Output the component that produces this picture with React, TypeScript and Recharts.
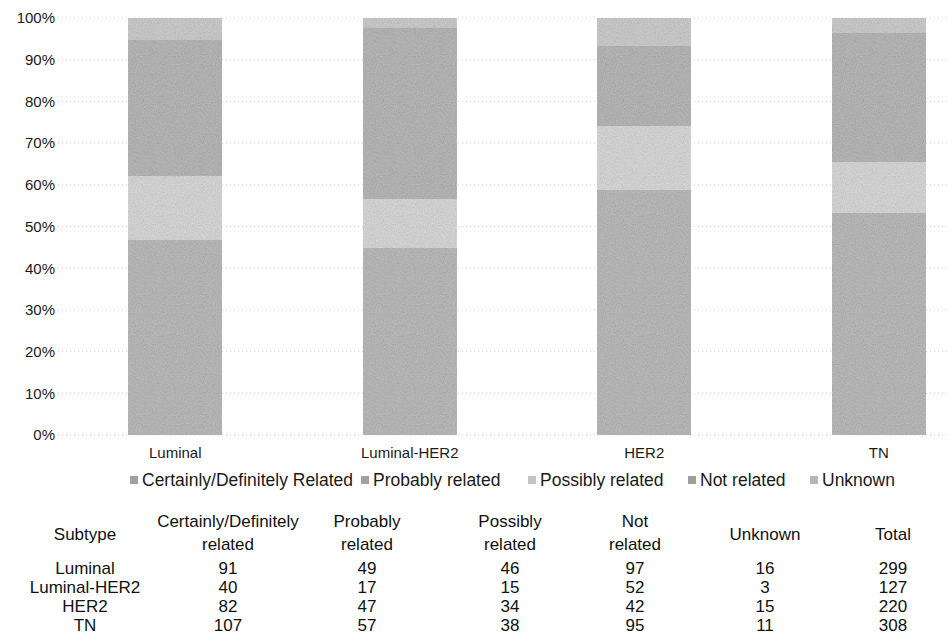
import { BarChart, Bar, XAxis, YAxis, CartesianGrid } from 'recharts';

// Subtypes and patient counts per attribution category
const subtypes = ['Luminal', 'Luminal-HER2', 'HER2', 'TN'];
const certainly = [91, 40, 82, 107];
const probably = [49, 17, 47, 57];
const possibly = [46, 15, 34, 38];
const notRelated = [97, 52, 42, 95];
const unknown = [16, 3, 15, 11];
const totals = [299, 127, 220, 308];

const yTicks = [0, 0.1, 0.2, 0.3, 0.4, 0.5, 0.6, 0.7, 0.8, 0.9, 1];

// base = tone under the grain overlay, color = flat swatch for the legend
const series = [
  { key: 'certainly', name: 'Certainly/Definitely Related', color: '#a1a1a1', base: '#adadad' },
  { key: 'probably', name: 'Probably related', color: '#a1a1a1', base: '#adadad' },
  { key: 'possibly', name: 'Possibly related', color: '#c4c4c4', base: '#d6d6d6' },
  { key: 'notRelated', name: 'Not related', color: '#9e9e9e', base: '#a9a9a9' },
  { key: 'unknown', name: 'Unknown', color: '#b7b7b7', base: '#c6c6c6' },
];

const data = subtypes.map((name, i) => ({
  name,
  certainly: certainly[i],
  probably: probably[i],
  possibly: possibly[i],
  notRelated: notRelated[i],
  unknown: unknown[i],
}));

const FONT = '"Liberation Sans", Arial, Helvetica, sans-serif';

// table columns: header lines and centre x
const columns = [
  { head: ['Subtype'], x: 85 },
  { head: ['Certainly/Definitely', 'related'], x: 228 },
  { head: ['Probably', 'related'], x: 367 },
  { head: ['Possibly', 'related'], x: 510 },
  { head: ['Not', 'related'], x: 635 },
  { head: ['Unknown'], x: 765 },
  { head: ['Total'], x: 893 },
];

const rows = subtypes.map((s, i) => [
  s,
  certainly[i],
  probably[i],
  possibly[i],
  notRelated[i],
  unknown[i],
  totals[i],
]);

const legendX = [130, 361, 528, 688, 810];

function Cell({ x, y, children }: { x: number; y: number; children: any }) {
  return (
    <div
      style={{
        position: 'absolute',
        left: x - 120,
        width: 240,
        top: y - 11,
        height: 22,
        lineHeight: '22px',
        textAlign: 'center',
        fontSize: 17,
        color: '#111',
        whiteSpace: 'nowrap',
      }}
    >
      {children}
    </div>
  );
}

export default function App() {
  return (
    <div
      style={{
        position: 'absolute',
        left: 0,
        top: 0,
        width: 947,
        height: 641,
        overflow: 'hidden',
        background: '#fff',
        fontFamily: FONT,
      }}
    >
      <BarChart
        width={1010}
        height={460}
        data={data}
        stackOffset="expand"
        margin={{ top: 18, right: 14, left: 0, bottom: 0 }}
        barSize={94}
      >
        <defs>
          <filter id="grain" x="0" y="0" width="100%" height="100%">
            <feTurbulence type="fractalNoise" baseFrequency="0.9" numOctaves="2" seed="4" />
            <feColorMatrix
              type="matrix"
              values="0.33 0.33 0.33 0 0  0.33 0.33 0.33 0 0  0.33 0.33 0.33 0 0  0 0 0 0 0.3"
            />
          </filter>
          {series.map((s) => (
            <pattern
              key={s.key}
              id={'fill-' + s.key}
              patternUnits="userSpaceOnUse"
              width={120}
              height={120}
            >
              <rect width={120} height={120} fill={s.base} />
              <rect width={120} height={120} filter="url(#grain)" />
            </pattern>
          ))}
        </defs>
        <CartesianGrid
          vertical={false}
          stroke="#cfcfcf"
          strokeDasharray="1 3"
        />
        <XAxis
          dataKey="name"
          axisLine={false}
          tickLine={false}
          tickSize={0}
          tickMargin={12}
          height={25}
          interval={0}
          tick={{ fill: '#1a1a1a', fontSize: 15, fontFamily: FONT }}
        />
        <YAxis
          width={58}
          domain={[0, 1]}
          ticks={yTicks}
          axisLine={false}
          tickLine={false}
          tickSize={0}
          tickMargin={3}
          tickFormatter={(v: number) => `${Math.round(v * 100)}%`}
          tick={{ fill: '#1a1a1a', fontSize: 15, fontFamily: FONT }}
        />
        {series.map((s) => (
          <Bar
            key={s.key}
            dataKey={s.key}
            name={s.name}
            stackId="a"
            fill={`url(#fill-${s.key})`}
            shapeRendering="crispEdges"
            isAnimationActive={false}
          />
        ))}
      </BarChart>

      {/* legend row */}
      {series.map((s, i) => (
        <div
          key={s.key}
          style={{
            position: 'absolute',
            left: legendX[i],
            top: 470,
            height: 20,
            display: 'flex',
            alignItems: 'center',
            fontSize: 17.5,
            color: '#1a1a1a',
            whiteSpace: 'nowrap',
          }}
        >
          <span
            style={{
              display: 'inline-block',
              width: 8,
              height: 8,
              background: s.color,
              marginRight: 4,
            }}
          />
          {s.name}
        </div>
      ))}

      {/* count table */}
      {columns.map((c, ci) =>
        c.head.length === 2 ? (
          <div key={'h' + ci}>
            <Cell x={c.x} y={522}>{c.head[0]}</Cell>
            <Cell x={c.x} y={545}>{c.head[1]}</Cell>
          </div>
        ) : (
          <Cell key={'h' + ci} x={c.x} y={535}>
            {c.head[0]}
          </Cell>
        )
      )}
      {rows.map((r, ri) =>
        r.map((v, ci) => (
          <Cell key={ri + '-' + ci} x={columns[ci].x} y={569 + ri * 19}>
            {v}
          </Cell>
        ))
      )}
    </div>
  );
}
